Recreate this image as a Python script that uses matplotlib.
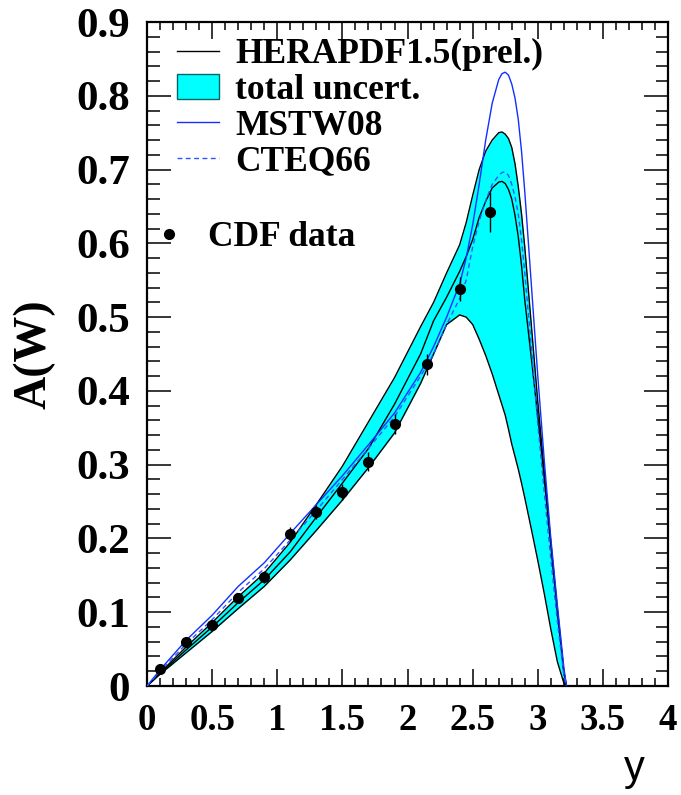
import matplotlib
matplotlib.use("Agg")
import matplotlib.pyplot as plt
from matplotlib.lines import Line2D
from matplotlib.patches import Patch
from matplotlib.ticker import MultipleLocator, FormatStrFormatter

# rapidity grid for the theory curves
y_grid = [0, 0.1, 0.3, 0.5, 0.7, 0.9, 1.1, 1.3, 1.5, 1.7, 1.9, 2.1, 2.2, 2.3, 2.4,
          2.45, 2.5, 2.55, 2.6, 2.65, 2.7, 2.725, 2.75, 2.775, 2.8, 2.825, 2.85,
          2.875, 2.9, 2.95, 3.0, 3.05, 3.1, 3.15, 3.2, 3.22]

hera_central = [0, 0.017, 0.049, 0.080, 0.113, 0.144, 0.182, 0.229, 0.275, 0.322, 0.382,
                0.450, 0.495, 0.527, 0.562, 0.582, 0.605, 0.635, 0.657, 0.675, 0.683,
                0.684, 0.681, 0.673, 0.660, 0.638, 0.609, 0.570, 0.523, 0.445, 0.365,
                0.280, 0.190, 0.100, 0.018, 0]
hera_upper = [0, 0.018, 0.053, 0.086, 0.121, 0.153, 0.195, 0.246, 0.298, 0.358, 0.418,
              0.487, 0.520, 0.560, 0.598, 0.628, 0.665, 0.700, 0.725, 0.740, 0.750,
              0.751, 0.748, 0.742, 0.730, 0.708, 0.677, 0.640, 0.595, 0.490, 0.385,
              0.290, 0.195, 0.105, 0.020, 0]
hera_lower = [0, 0.016, 0.045, 0.074, 0.105, 0.135, 0.171, 0.211, 0.252, 0.296, 0.343,
              0.410, 0.450, 0.490, 0.503, 0.500, 0.490, 0.470, 0.448, 0.423, 0.395,
              0.381, 0.367, 0.348, 0.328, 0.311, 0.294, 0.275, 0.255, 0.213, 0.170,
              0.125, 0.077, 0.033, 0.004, 0]
mstw08 = [0, 0.022, 0.062, 0.096, 0.135, 0.167, 0.207, 0.246, 0.285, 0.327, 0.370,
          0.425, 0.460, 0.500, 0.545, 0.580, 0.625, 0.680, 0.740, 0.790, 0.822,
          0.830, 0.832, 0.828, 0.816, 0.797, 0.768, 0.725, 0.670, 0.545, 0.420,
          0.305, 0.200, 0.110, 0.025, 0]
cteq66 = [0, 0.020, 0.057, 0.090, 0.127, 0.159, 0.198, 0.238, 0.280, 0.322, 0.365,
          0.420, 0.450, 0.490, 0.525, 0.550, 0.595, 0.630, 0.658, 0.680, 0.692,
          0.696, 0.697, 0.692, 0.680, 0.663, 0.640, 0.605, 0.560, 0.460, 0.355,
          0.262, 0.172, 0.088, 0.015, 0]

# CDF W charge asymmetry
cdf_y = [0.10, 0.30, 0.50, 0.70, 0.90, 1.10, 1.30, 1.50, 1.70, 1.90, 2.15, 2.40, 2.63]
cdf_a = [0.023, 0.060, 0.083, 0.119, 0.148, 0.206, 0.236, 0.263, 0.304, 0.355, 0.436,
         0.538, 0.642]
cdf_err = [0.005, 0.006, 0.006, 0.007, 0.008, 0.010, 0.010, 0.011, 0.013, 0.014, 0.014,
           0.016, 0.027]

serif = "Liberation Serif"
cyan = "#00ffff"
blue = "#1030ff"
blue_dash = "#2f55ff"
dash = (0, (3.5, 2.5))

fig = plt.figure(figsize=(6.81, 7.95), dpi=100)
ax = fig.add_axes([0.2159, 0.1371, 0.7651, 0.8352])

ax.fill_between(y_grid, hera_lower, hera_upper, color=cyan, lw=0, zorder=1)
ax.plot(y_grid, hera_upper, color="black", lw=1.0, zorder=2)
ax.plot(y_grid, hera_lower, color="black", lw=1.0, zorder=2)
ax.plot(y_grid, hera_central, color="black", lw=1.0, zorder=3)
ax.plot(y_grid, mstw08, color=blue, lw=1.0, zorder=3)
ax.plot(y_grid, cteq66, color=blue_dash, lw=1.0, ls=dash, zorder=3)
ax.errorbar(cdf_y, cdf_a, yerr=cdf_err, fmt="o", color="black", ms=7, elinewidth=1.0,
            capsize=0, zorder=4)

ax.set_xlim(0, 4)
ax.set_ylim(0, 0.9)
ax.xaxis.set_major_locator(MultipleLocator(0.5))
ax.xaxis.set_minor_locator(MultipleLocator(0.1))
ax.yaxis.set_major_locator(MultipleLocator(0.1))
ax.yaxis.set_minor_locator(MultipleLocator(0.02))
ax.xaxis.set_major_formatter(FormatStrFormatter("%g"))
ax.yaxis.set_major_formatter(FormatStrFormatter("%g"))

ax.tick_params(which="both", direction="in", top=True, right=True, width=1.1, color="black")
ax.tick_params(axis="x", which="major", length=12, pad=12)
ax.tick_params(axis="x", which="minor", length=6)
ax.tick_params(axis="y", which="major", length=17, pad=12)
ax.tick_params(axis="y", which="minor", length=9)
for lab in ax.get_xticklabels():
    lab.set_fontfamily(serif)
    lab.set_fontweight("bold")
    lab.set_fontsize(26.5)
for lab in ax.get_yticklabels():
    lab.set_fontfamily(serif)
    lab.set_fontweight("bold")
    lab.set_fontsize(31)
for sp in ax.spines.values():
    sp.set_linewidth(1.6)

ax.set_ylabel("A(W)", fontfamily=serif, fontweight="bold", fontsize=33)
ax.yaxis.set_label_coords(-0.175, 0.5)
ax.set_xlabel("y", fontfamily="Liberation Sans", fontsize=30)
ax.xaxis.set_label_coords(0.935, -0.095)

handles = [
    Line2D([], [], color="black", lw=1.0),
    Patch(facecolor=cyan, edgecolor="#006666", lw=1.0),
    Line2D([], [], color=blue, lw=1.0),
    Line2D([], [], color=blue_dash, lw=1.0, ls=dash),
]
labels = ["HERAPDF1.5(prel.)", "total uncert.", "MSTW08", "CTEQ66"]
leg = ax.legend(handles, labels, loc="upper left", bbox_to_anchor=(0.057, 0.976),
                frameon=False, borderpad=0, borderaxespad=0, handlelength=1.2,
                handleheight=0.7, handletextpad=0.45, labelspacing=0.08,
                prop={"family": serif, "weight": "bold", "size": 25.5})
ax.add_artist(leg)

data_handle = Line2D([], [], color="black", marker="o", ls="none", ms=7)
ax.legend([data_handle], ["CDF data"], loc="upper left", bbox_to_anchor=(0.025, 0.7),
          frameon=False, borderpad=0, borderaxespad=0, handlelength=0.5,
          handletextpad=0.85, prop={"family": serif, "weight": "bold", "size": 25.5})

fig.savefig("out.png", dpi=100)
